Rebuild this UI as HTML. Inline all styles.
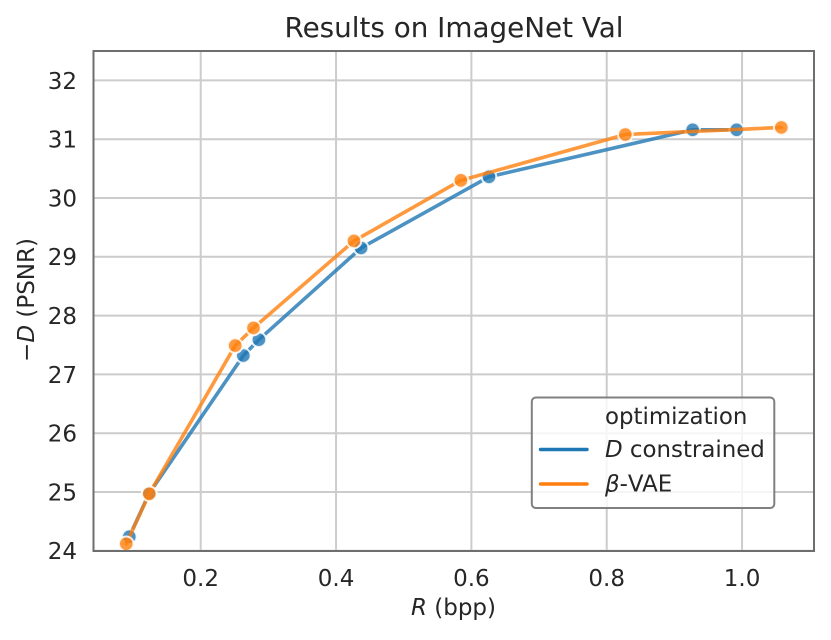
<!DOCTYPE html>
<html>
<head>
<meta charset="utf-8">
<style>
html,body{margin:0;padding:0;background:#fff;}
svg{display:block;}
text{font-family:"DejaVu Sans","Liberation Sans",sans-serif;fill:#262626;}
</style>
</head>
<body>
<svg id="chart" xmlns="http://www.w3.org/2000/svg" width="831" height="640" viewBox="0 0 831 640">
<rect width="831" height="640" fill="#fff"/>
<text x="454" y="37" font-size="27.8" text-anchor="middle">Results on ImageNet Val</text>
<g id="grid"></g>
<g id="series"></g>
<rect x="93.5" y="51" width="720.5" height="500" fill="none" stroke="#6e6e6e" stroke-width="2"/>
<g id="ticks"></g>
<text x="453.5" y="615" font-size="23" text-anchor="middle"><tspan font-style="italic">R</tspan> (bpp)</text>
<text transform="translate(34 300) rotate(-90)" font-size="23" text-anchor="middle">−<tspan font-style="italic">D</tspan> (PSNR)</text>
<g>
  <rect x="531.8" y="397.5" width="242.5" height="110.5" rx="4" fill="#fff" fill-opacity="0.8" stroke="#808080" stroke-width="2"/>
  <text x="605" y="424" font-size="22.9">optimization</text>
  <line x1="540.5" y1="449.5" x2="587" y2="449.5" stroke="#1f77b4" stroke-width="3.4" stroke-linecap="round"/>
  <text x="605" y="457" font-size="22.9"><tspan font-style="italic">D</tspan> constrained</text>
  <line x1="540.5" y1="484" x2="587" y2="484" stroke="#ff7f0e" stroke-width="3.4" stroke-linecap="round"/>
  <text x="605" y="491.5" font-size="22.9"><tspan font-style="italic">β</tspan>-VAE</text>
</g>
</svg>
<script>
const xTickValues = [0.2, 0.4, 0.6, 0.8, 1.0];
const yTickValues = [24, 25, 26, 27, 28, 29, 30, 31, 32];
const dConstrainedR = [0.0945, 0.124, 0.263, 0.286, 0.437, 0.626, 0.927, 0.992];
const dConstrainedPsnr = [24.24, 24.98, 27.32, 27.59, 29.15, 30.36, 31.16, 31.16];
const betaVaeR = [0.090, 0.124, 0.251, 0.278, 0.4265, 0.5845, 0.8275, 1.058];
const betaVaePsnr = [24.12, 24.97, 27.49, 27.79, 29.27, 30.30, 31.08, 31.20];

const NS = 'http://www.w3.org/2000/svg';
const xScale = v => 200.7 + (v - 0.2) * 676.7;
const yScale = v => 550.8 - (v - 24) * 58.8;

function mk(parent, tag, attrs, text) {
  const el = document.createElementNS(NS, tag);
  for (const k in attrs) el.setAttribute(k, attrs[k]);
  if (text !== undefined) el.textContent = text;
  parent.appendChild(el);
  return el;
}

const grid = document.getElementById('grid');
const ticks = document.getElementById('ticks');

xTickValues.forEach(v => {
  const x = xScale(v);
  const g = mk(grid, 'line', {x1: x, x2: x, y1: 51, y2: 551, stroke: '#cccccc', 'stroke-width': 2});
  
  
  const t = mk(ticks, 'text', {x: x, y: 586, 'font-size': 23, 'text-anchor': 'middle'}, v.toFixed(1));
  
  
});

yTickValues.forEach(v => {
  const y = yScale(v);
  const g = mk(grid, 'line', {x1: 93.5, x2: 814, y1: y, y2: y, stroke: '#cccccc', 'stroke-width': 2});
  
  
  const t = mk(ticks, 'text', {x: 77, y: y + 8.4, 'font-size': 23, 'text-anchor': 'end'}, String(v));
  
  
});

function drawSeries(xs, ys, color) {
  const root = document.getElementById('series');
  const pts = xs.map((v, i) => xScale(v) + ',' + yScale(ys[i])).join(' ');
  const line = mk(root, 'polyline', {points: pts, fill: 'none', stroke: color, 'stroke-width': 3.6, 'stroke-opacity': 0.8, 'stroke-linejoin': 'round', 'stroke-linecap': 'round'});
  
  
  xs.forEach((v, i) => {
    const c = mk(root, 'circle', {cx: xScale(v), cy: yScale(ys[i]), r: 7.3, fill: color, 'fill-opacity': 0.8, stroke: '#fff', 'stroke-opacity': 0.85, 'stroke-width': 2});
    
    
  });
}

drawSeries(dConstrainedR, dConstrainedPsnr, '#1f77b4');
drawSeries(betaVaeR, betaVaePsnr, '#ff7f0e');
</script>
</body>
</html>
